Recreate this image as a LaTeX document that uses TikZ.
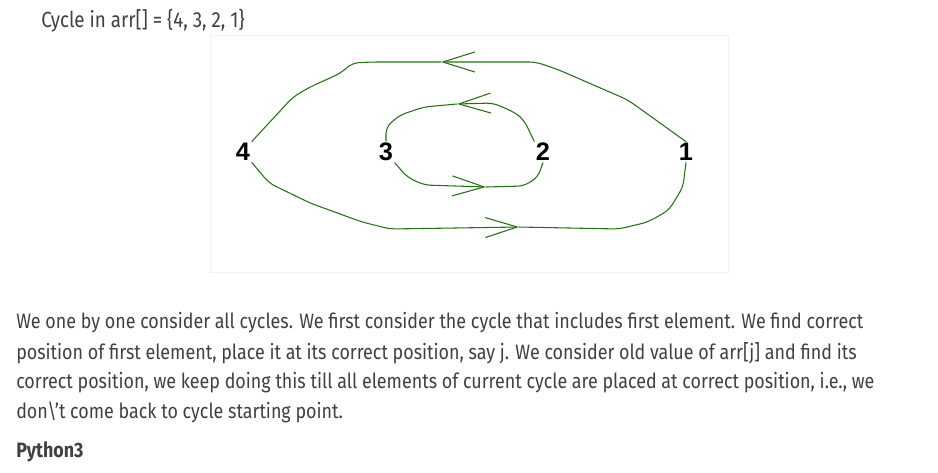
\documentclass[tikz,border=0pt]{standalone}
\usepackage{fontspec}
\setmainfont{Fira Sans}[FakeStretch=0.86]
\newfontfamily\numfont{Liberation Sans}
\usetikzlibrary{arrows.meta}

\definecolor{cycgreen}{RGB}{40,112,24}
\definecolor{textgray}{RGB}{64,64,64}

\begin{document}
\begin{tikzpicture}[x=0.75pt, y=-0.75pt,
        cyc/.style={draw=cycgreen, line width=0.8pt, rounded corners=5pt},
        barbed/.style={-{Straight Barb[length=24pt, width=15pt, line width=0.8pt]}},
        num/.style={font=\numfont\bfseries\fontsize{19}{19}\selectfont, inner sep=1pt},
        para/.style={anchor=west, inner sep=0pt, text=textgray, font=\fontsize{15.6}{18}\selectfont}]
    \useasboundingbox (0,0) rectangle (938,472);

    % title and panel
    \node (title) [para, font=\fontsize{16.4}{18}\selectfont] at (41,21) {Cycle in arr[] = \{4, 3, 2, 1\}};
    \node (panel) [draw=black!5, fill=white, minimum width=388.5pt, minimum height=177.75pt,
        anchor=north west, inner sep=0pt] at (210,35) {};

    % the elements
    \node (n4) [num] at (243,152) {4};
    \node (n3) [num] at (386,152) {3};
    \node (n2) [num] at (543,152) {2};
    \node (n1) [num] at (686,152) {1};

    \coordinate (t1) at (441,62);
    \coordinate (t2) at (519,227);
    \coordinate (t3) at (457,104);
    \coordinate (t4) at (486,187);

    % outer cycle 1 -> 4 -> 1
    \draw[cyc, barbed] (n1.north) -- (628,100) -- (559,70) -- (536,62) -- (t1);
    \draw[cyc] (t1) -- (372,62) -- (352,63) -- (341,73) -- (310,87) -- (293,97) -- (n4.north east);
    \draw[cyc, barbed] (n4.south east) -- (269,183) -- (310,203) -- (362,222) -- (390,229) -- (t2);
    \draw[cyc] (t2) -- (619,229) -- (648,222) -- (669,210) -- (683,187) -- (n1.south);

    % inner cycle 2 -> 3 -> 2
    \draw[cyc, barbed] (n2.north west) -- (524,120) -- (514,112) -- (493,103) -- (t3);
    \draw[cyc] (t3) -- (424,107) -- (400,115) -- (386,127) -- (n3.north);
    \draw[cyc, barbed] (n3.south east) -- (407,177) -- (424,185) -- (t4);
    \draw[cyc] (t4) -- (524,186) -- (538,177) -- (n2.south);

    % explanation
    \node (l1) [para] at (16,323) {We one by one consider all cycles. We first consider the cycle that includes first element. We find correct};
    \node (l2) [para] at (16,353) {position of first element, place it at its correct position, say j. We consider old value of arr[j] and find its};
    \node (l3) [para] at (16,383) {correct position, we keep doing this till all elements of current cycle are placed at correct position, i.e., we};
    \node (l4) [para] at (16,412) {don\textbackslash't come back to cycle starting point.};
    \node (lang) [para, font=\fontsize{15.6}{18}\selectfont\bfseries] at (16,452) {Python3};
\end{tikzpicture}
\end{document}
